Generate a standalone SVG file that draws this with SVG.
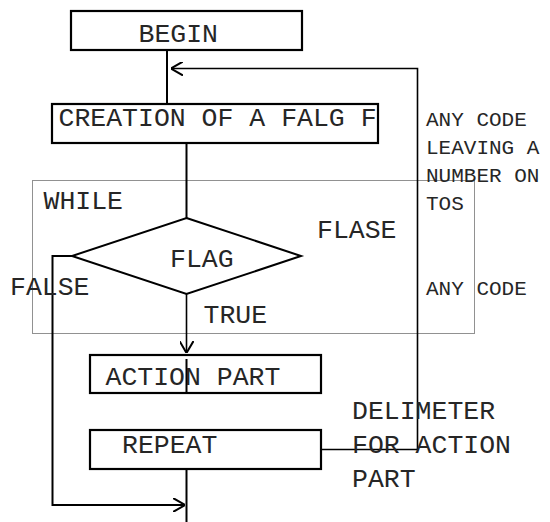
<svg xmlns="http://www.w3.org/2000/svg" width="550" height="522" viewBox="0 0 550 522">
  <defs>
    <style>
      .box { fill: #fff; stroke: #000; stroke-width: 2.2; }
      .ln { fill: none; stroke: #000; stroke-width: 2; }
      .thin { fill: none; stroke: #000; stroke-width: 1.6; }
      .dot { fill: none; stroke: #222; stroke-width: 1; stroke-dasharray: 1 1; }
      .t { font-family: "Liberation Mono", "Courier New", monospace; font-size: 26.5px; fill: #262626; }
      .s { font-family: "Liberation Mono", "Courier New", monospace; font-size: 21px; fill: #262626; }
    </style>
    <marker id="open" viewBox="0 0 12 14" refX="12" refY="7" markerWidth="12" markerHeight="14" markerUnits="userSpaceOnUse" orient="auto">
      <path d="M0,0 L12,7 L0,14" fill="none" stroke="#000" stroke-width="2"/>
    </marker>
  </defs>
  <rect width="550" height="522" fill="#fff"/>

  <!-- WHILE region frame -->
  <rect class="dot" x="32.5" y="180.5" width="442" height="153"/>

  <g id="connectors">
    <!-- BEGIN to flag creation -->
    <line class="ln" x1="167" y1="50" x2="167" y2="104"/>
    <!-- flag creation to test -->
    <line class="ln" x1="186.5" y1="143" x2="186.5" y2="218"/>
    <!-- TRUE branch into action part -->
    <line class="thin" x1="186.5" y1="294" x2="186.5" y2="353" marker-end="url(#open)"/>
    <!-- exit below REPEAT -->
    <line class="ln" x1="186.5" y1="469" x2="186.5" y2="522"/>
    <!-- FALSE branch around the loop -->
    <polyline class="ln" points="72,256 52.5,256 52.5,505 185,505" marker-end="url(#open)"/>
    <!-- REPEAT back to the top of the loop -->
    <polyline class="thin" points="321,449.5 417.5,449.5 417.5,68.5 171,68.5" marker-end="url(#open)"/>
  </g>

  <g id="begin">
    <rect class="box" x="71" y="11" width="231" height="39"/>
    <text class="t" x="138.5" y="42">BEGIN</text>
  </g>

  <g id="create-flag">
    <rect class="box" x="52" y="104" width="326" height="39"/>
    <text class="t" x="58.5" y="126">CREATION OF A FALG F</text>
  </g>

  <g id="flag-test">
    <polygon class="ln" points="186.5,218 301,256 186.5,294 72,256" fill="#fff"/>
    <text class="t" x="170" y="267">FLAG</text>
  </g>

  <g id="action">
    <rect class="box" x="90" y="355" width="231" height="38"/>
    <text class="t" x="105.5" y="385">ACTION PART</text>
    <line class="ln" x1="186.5" y1="359" x2="186.5" y2="393"/>
  </g>

  <g id="repeat">
    <rect class="box" x="90" y="430" width="231" height="39"/>
    <text class="t" x="122" y="453">REPEAT</text>
  </g>

  <g id="labels">
    <text class="t" x="43.5" y="209">WHILE</text>
    <text class="t" x="317" y="238">FLASE</text>
    <text class="t" x="10" y="295">FALSE</text>
    <text class="t" x="203.5" y="323">TRUE</text>
    <text class="s" x="426" y="126">ANY CODE</text>
    <text class="s" x="426" y="154">LEAVING A</text>
    <text class="s" x="426" y="182">NUMBER ON</text>
    <text class="s" x="426" y="210">TOS</text>
    <text class="s" x="426" y="295">ANY CODE</text>
    <text class="t" x="352" y="419">DELIMETER</text>
    <text class="t" x="352" y="453">FOR ACTION</text>
    <text class="t" x="352" y="487">PART</text>
  </g>
</svg>
